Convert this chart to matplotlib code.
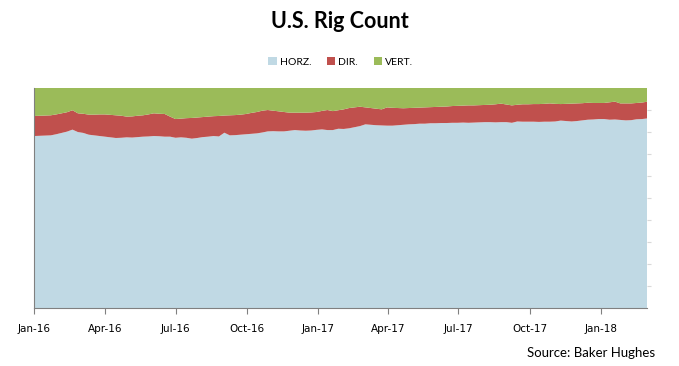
import matplotlib.pyplot as plt
import matplotlib.dates as mdates
import numpy as np
import pandas as pd

# weekly share of rigs (%)
dates = pd.date_range("2016-01-01", periods=114, freq="7D")

horz = [78.2, 78.3, 78.4, 78.5, 79.0, 79.6, 80.2, 81.1, 80.0, 79.6,
        78.8, 78.5, 78.2, 77.9, 77.6, 77.3, 77.4, 77.6, 77.5, 77.7,
        77.9, 78.0, 78.2, 78.1, 77.9, 77.9, 77.4, 77.6, 77.4, 77.0,
        77.3, 77.7, 77.9, 78.2, 78.0, 79.7, 78.5, 78.6, 78.8, 79.0,
        79.2, 79.4, 79.8, 80.3, 80.4, 80.3, 80.3, 80.6, 80.9, 80.7,
        80.6, 80.7, 81.0, 81.2, 80.9, 80.9, 81.5, 81.4, 81.7, 82.2,
        82.7, 83.5, 83.3, 83.1, 83.0, 82.9, 82.9, 83.1, 83.3, 83.5,
        83.6, 83.8, 83.8, 84.0, 84.0, 84.1, 84.1, 84.2, 84.2, 84.3,
        84.2, 84.3, 84.4, 84.5, 84.5, 84.4, 84.5, 84.5, 84.2, 84.8,
        84.7, 84.7, 84.7, 84.6, 84.7, 84.7, 84.8, 85.2, 85.0, 84.8,
        85.0, 85.3, 85.6, 85.7, 85.9, 85.9, 85.6, 85.7, 85.5, 85.3,
        85.4, 85.8, 85.9, 86.2]

vert = [12.7, 12.6, 12.5, 12.4, 12.0, 11.5, 11.0, 10.1, 11.5, 11.7,
        12.1, 12.1, 12.0, 12.0, 12.2, 12.4, 12.6, 13.0, 12.9, 12.6,
        12.4, 12.0, 11.5, 11.7, 11.8, 13.0, 14.1, 13.9, 13.7, 13.6,
        13.4, 13.2, 13.0, 12.8, 12.7, 12.5, 12.4, 12.3, 12.1, 11.8,
        11.3, 10.9, 10.3, 10.0, 10.3, 10.6, 10.9, 11.2, 11.2, 11.2,
        11.2, 11.1, 10.9, 10.4, 10.0, 10.5, 10.1, 9.7, 9.1, 8.8,
        8.5, 8.8, 9.1, 9.4, 9.7, 8.8, 9.0, 9.1, 9.2, 9.1,
        9.0, 8.9, 8.8, 8.7, 8.6, 8.5, 8.4, 8.2, 8.1, 8.0,
        7.9, 7.9, 7.8, 7.7, 7.6, 7.4, 7.1, 7.5, 7.9, 7.6,
        7.4, 7.4, 7.3, 7.3, 7.2, 7.0, 7.2, 7.3, 7.2, 7.1,
        7.0, 6.9, 6.7, 6.8, 6.8, 6.8, 6.5, 6.2, 7.0, 7.0,
        7.0, 6.8, 6.6, 6.2]

horz = np.array(horz)
vert = np.array(vert)
dirc = 100 - horz - vert

labels = ["HORZ.", "DIR.", "VERT."]
colors = ["#C0D9E4", "#C0504D", "#9BBB59"]

fig = plt.figure(figsize=(6.79, 3.66), dpi=100)
ax = fig.add_axes([0.0508, 0.1577, 0.9028, 0.6019])

ax.stackplot(dates, horz, dirc, vert, labels=labels, colors=colors, linewidth=0)

ax.set_xlim(dates[0], dates[-1])
ax.set_ylim(0, 100)

# x axis: quarterly ticks
ticks = pd.date_range("2016-01-01", "2018-01-01", freq="3MS")
ax.set_xticks(ticks)
ax.xaxis.set_major_formatter(mdates.DateFormatter("%b-%y"))
ax.tick_params(axis="x", direction="out", length=4, color="#808080",
               labelsize=7.5, pad=7)

# light tick marks on the right, no labels
ax.yaxis.tick_right()
ax.set_yticks(np.arange(10, 100, 10))
ax.tick_params(axis="y", direction="out", length=3, color="#d9d9d9",
               labelright=False)

for s in ["top", "right"]:
    ax.spines[s].set_visible(False)
for s in ["left", "bottom"]:
    ax.spines[s].set_color("#808080")

fig.text(0.5, 0.94, "U.S. Rig Count", ha="center", va="center",
         fontsize=15.5, fontweight="bold", family="Lato")

fig.legend(loc="center", bbox_to_anchor=(0.502, 0.83), ncol=3, frameon=False,
           handlelength=0.8, handleheight=0.8, handletextpad=0.3,
           columnspacing=1.5, prop={"family": "Lato", "size": 7.5})

fig.text(0.965, 0.035, "Source: Baker Hughes", ha="right", va="center",
         fontsize=9.5, family="Lato")

plt.savefig("out.png", dpi=100)
